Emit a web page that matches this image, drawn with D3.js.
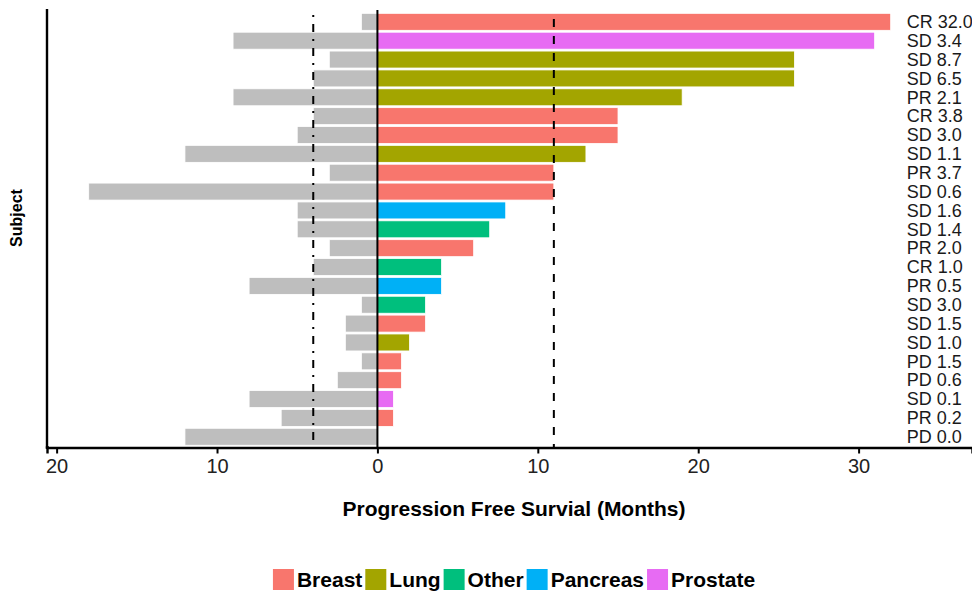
<!DOCTYPE html>
<html>
<head>
<meta charset="utf-8">
<script src="https://cdn.jsdelivr.net/npm/d3@7"></script>
<style>
  body { margin: 0; background: #fff; }
  svg { display: block; font-family: "Liberation Sans", Arial, sans-serif; }
</style>
</head>
<body>
<div id="chart-container"></div>
<script>
// Data (one row per subject, top to bottom)
const responseLabels = ["CR 32.0", "SD 3.4", "SD 8.7", "SD 6.5", "PR 2.1", "CR 3.8", "SD 3.0", "SD 1.1",
    "PR 3.7", "SD 0.6", "SD 1.6", "SD 1.4", "PR 2.0", "CR 1.0", "PR 0.5", "SD 3.0", "SD 1.5",
    "SD 1.0", "PD 1.5", "PD 0.6", "SD 0.1", "PR 0.2", "PD 0.0"];
const tumorTypes = ["Breast", "Prostate", "Lung", "Lung", "Lung", "Breast", "Breast", "Lung",
    "Breast", "Breast", "Pancreas", "Other", "Breast", "Other", "Pancreas", "Other", "Breast",
    "Lung", "Breast", "Breast", "Prostate", "Breast", "Breast"];
const pfsStudy = [32, 31, 26, 26, 19, 15, 15, 13, 11, 11, 8, 7, 6, 4, 4, 3, 3, 2, 1.5, 1.5, 1, 1, 0];
const pfsPrior = [1, 9, 3, 4, 9, 4, 5, 12, 3, 18, 5, 5, 3, 4, 8, 1, 2, 2, 1, 2.5, 8, 6, 12];
const medianStudy = 11;
const medianPrior = 4;
const categories = ["Breast", "Lung", "Other", "Pancreas", "Prostate"];
const categoryColors = ["#F8766D", "#A3A500", "#00BF7D", "#00B0F6", "#E76BF3"];
const tickValues = [-20, -10, 0, 10, 20, 30];
const labelPosition = 33;

const width = 972;
const height = 592;
const panel = { left: 47, right: 972, top: 9, bottom: 447.5 };

const svg = d3.select("#chart-container")
    .append("svg")
    .attr("width", width)
    .attr("height", height);

svg.append("rect").attr("width", width).attr("height", height).attr("fill", "#fff");

const rows = responseLabels.map((label, i) => ({
    id: i,
    label: label,
    type: tumorTypes[i],
    study: pfsStudy[i],
    prior: pfsPrior[i]
}));

const x = d3.scaleLinear()
    .domain([-20.6, 37.07])
    .range([panel.left, panel.right]);

const y = d3.scaleBand()
    .domain(rows.map(d => d.id))
    .range([12.4, 446.2])
    .paddingInner(0.1)
    .paddingOuter(0.05);

const color = d3.scaleOrdinal().domain(categories).range(categoryColors);

// prior therapy bars (grey, to the left)
svg.append("g")
    .selectAll("rect")
    .data(rows)
    .join("rect")
    .attr("x", d => x(-d.prior))
    .attr("y", d => y(d.id))
    .attr("width", d => x(0) - x(-d.prior))
    .attr("height", y.bandwidth())
    .attr("fill", "#BEBEBE")
    .attr("stroke", "#fff")
    .attr("stroke-width", 0.8);

// study bars (coloured by tumour type)
svg.append("g")
    .selectAll("rect")
    .data(rows.filter(d => d.study > 0))
    .join("rect")
    .attr("x", x(0))
    .attr("y", d => y(d.id))
    .attr("width", d => x(d.study) - x(0))
    .attr("height", y.bandwidth())
    .attr("fill", d => color(d.type))
    .attr("stroke", "#fff")
    .attr("stroke-width", 0.8);

// reference lines
svg.append("line")
    .attr("x1", x(0)).attr("x2", x(0))
    .attr("y1", 10).attr("y2", panel.bottom)
    .attr("stroke", "#000")
    .attr("stroke-width", 2);

svg.append("line")
    .attr("x1", x(medianStudy)).attr("x2", x(medianStudy))
    .attr("y1", 19).attr("y2", panel.bottom)
    .attr("stroke", "#000")
    .attr("stroke-width", 2)
    .attr("stroke-dasharray", "8,9");

svg.append("line")
    .attr("x1", x(-medianPrior)).attr("x2", x(-medianPrior))
    .attr("y1", 15).attr("y2", panel.bottom)
    .attr("stroke", "#000")
    .attr("stroke-width", 2)
    .attr("stroke-dasharray", "2,7,8,7");

// response labels on the right
svg.append("g")
    .selectAll("text")
    .data(rows)
    .join("text")
    .attr("x", x(labelPosition))
    .attr("y", d => y(d.id) + y.bandwidth() / 2)
    .attr("dy", "0.35em")
    .attr("font-size", 18)
    .attr("fill", "#1a1a1a")
    .text(d => d.label);

// axes
const xAxis = svg.append("g")
    .attr("transform", `translate(0,${panel.bottom})`)
    .call(d3.axisBottom(x)
        .tickValues(tickValues)
        .tickFormat(d => Math.abs(d))
        .tickSizeOuter(0)
        .tickSize(6)
        .tickPadding(5));

xAxis.select(".domain").attr("stroke", "#000").attr("stroke-width", 2.4);
xAxis.selectAll(".tick line").attr("stroke", "#000").attr("stroke-width", 2);
xAxis.selectAll(".tick text")
    .attr("font-size", 20)
    .attr("font-family", "'Liberation Sans', Arial, sans-serif")
    .attr("fill", "#222");

svg.append("line")
    .attr("x1", panel.left).attr("x2", panel.left)
    .attr("y1", panel.top).attr("y2", panel.bottom + 1.2)
    .attr("stroke", "#000")
    .attr("stroke-width", 2.4);

svg.append("line")
    .attr("x1", panel.left - 1.2).attr("x2", panel.left + 2)
    .attr("y1", panel.bottom).attr("y2", panel.bottom)
    .attr("stroke", "#000")
    .attr("stroke-width", 2.4);

// axis titles
svg.append("text")
    .attr("x", 514)
    .attr("y", 516)
    .attr("text-anchor", "middle")
    .attr("font-size", 21)
    .attr("font-weight", "bold")
    .attr("fill", "#000")
    .text("Progression Free Survial (Months)");

svg.append("text")
    .attr("transform", "translate(22,218) rotate(-90)")
    .attr("text-anchor", "middle")
    .attr("font-size", 16)
    .attr("font-weight", "bold")
    .attr("fill", "#000")
    .text("Subject");

// legend, laid out from measured text widths and centred
const legend = svg.append("g");
const swatch = 21;
let cursor = 0;
categories.forEach(name => {
    const item = legend.append("g").attr("transform", `translate(${cursor},0)`);
    item.append("rect")
        .attr("width", swatch)
        .attr("height", swatch)
        .attr("fill", color(name));
    const label = item.append("text")
        .attr("x", swatch + 3)
        .attr("y", swatch / 2)
        .attr("dy", "0.36em")
        .attr("font-size", 21)
        .attr("font-weight", "bold")
        .attr("fill", "#000")
        .text(name);
    cursor += swatch + 3 + label.node().getComputedTextLength() + 3;
});
legend.attr("transform", `translate(${514 - (cursor - 3) / 2},569)`);
</script>
</body>
</html>
